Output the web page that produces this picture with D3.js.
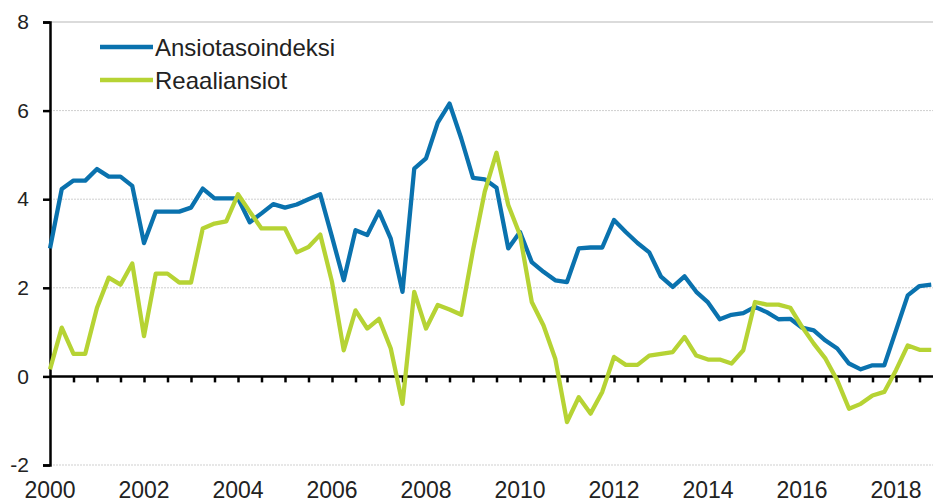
<!DOCTYPE html>
<html>
<head>
<meta charset="utf-8">
<script src="https://cdn.jsdelivr.net/npm/d3@7"></script>
<style>
  body { margin: 0; background: #fff; }
  svg { display: block; font-family: "Liberation Sans", Arial, sans-serif; }
</style>
</head>
<body>
<div id="chart"></div>
<script>
// quarterly categories 2000Q1 .. 2018Q4
const years = d3.range(2000, 2019);
const quarters = years.flatMap(y => [1, 2, 3, 4].map(q => y + "Q" + q));

const yearLabels = ["2000", "2002", "2004", "2006", "2008", "2010", "2012", "2014", "2016", "2018"];
const yTicks = [-2, 0, 2, 4, 6, 8];

const seriesNames = ["Ansiotasoindeksi", "Reaaliansiot"];

// Ansiotasoindeksi, change %
const ansio = [
  2.89, 4.23, 4.42, 4.42, 4.68, 4.51, 4.51, 4.30,
  3.01, 3.72, 3.72, 3.72, 3.81, 4.24, 4.02, 4.02,
  4.02, 3.48, 3.68, 3.89, 3.81, 3.88, 4.00, 4.11,
  3.15, 2.17, 3.30, 3.19, 3.72, 3.11, 1.91, 4.69,
  4.92, 5.73, 6.16, 5.37, 4.48, 4.45, 4.26, 2.89,
  3.26, 2.58, 2.36, 2.17, 2.13, 2.89, 2.91, 2.91,
  3.53, 3.26, 3.01, 2.80, 2.25, 2.02, 2.26, 1.91,
  1.67, 1.29, 1.39, 1.43, 1.57, 1.45, 1.29, 1.30,
  1.10, 1.04, 0.81, 0.63, 0.29, 0.16, 0.25, 0.25,
  1.04, 1.83, 2.04, 2.07
];

// Reaaliansiot, change %
const reaali = [
  0.16, 1.10, 0.51, 0.51, 1.55, 2.23, 2.07, 2.55,
  0.91, 2.32, 2.32, 2.12, 2.12, 3.34, 3.45, 3.50,
  4.11, 3.72, 3.34, 3.34, 3.34, 2.80, 2.92, 3.20,
  2.13, 0.59, 1.49, 1.08, 1.30, 0.63, -0.62, 1.91,
  1.08, 1.61, 1.51, 1.39, 2.85, 4.17, 5.05, 3.87,
  3.19, 1.68, 1.15, 0.40, -1.03, -0.47, -0.84, -0.35,
  0.44, 0.26, 0.26, 0.47, 0.51, 0.55, 0.89, 0.47,
  0.38, 0.38, 0.29, 0.59, 1.68, 1.62, 1.62, 1.55,
  1.12, 0.74, 0.40, -0.09, -0.73, -0.62, -0.43, -0.35,
  0.14, 0.70, 0.60, 0.60
];

const colors = ["#0a72ae", "#b6d334"];

const width = 933;
const height = 503;
const margin = {top: 22, right: 2, bottom: 38, left: 50};

const svg = d3.create("svg")
  .attr("width", width)
  .attr("height", height);

svg.append("rect").attr("width", width).attr("height", height).attr("fill", "#fff");

const x = d3.scalePoint()
  .domain(quarters)
  .range([margin.left, 931.25]);

const y = d3.scaleLinear()
  .domain([-2, 8])
  .range([height - margin.bottom, margin.top]);

// gridlines
svg.append("g")
  .selectAll("line")
  .data(yTicks.filter(d => d !== 0))
  .join("line")
  .attr("x1", margin.left)
  .attr("x2", width)
  .attr("y1", d => y(d))
  .attr("y2", d => y(d))
  .attr("stroke", "#cfcfcf")
  .attr("stroke-width", d => d === 8 ? 1.5 : 1)
  .attr("stroke-dasharray", d => d === 8 ? null : "2,1");

// y axis
const yAxis = svg.append("g")
  .attr("transform", `translate(${margin.left},0)`)
  .call(d3.axisLeft(y).tickValues(yTicks).tickSize(7).tickPadding(14).tickFormat(d => String(d)));
yAxis.select(".domain").attr("stroke", "#000").attr("stroke-width", 2.5);
yAxis.selectAll(".tick line").attr("stroke", "#000").attr("stroke-width", 2.5);
yAxis.selectAll(".tick text")
  .attr("fill", "#222")
  .attr("font-size", 21)
  .attr("font-family", "Liberation Sans, Arial, sans-serif");

// zero line with category ticks
const zeroAxis = svg.append("g")
  .attr("transform", `translate(0,${y(0)})`)
  .call(d3.axisBottom(x)
    .tickValues(quarters.filter((d, i) => i > 0 && i % 2 === 0))
    .tickSize(6)
    .tickSizeOuter(0)
    .tickFormat(""));
zeroAxis.select(".domain").attr("stroke", "#000").attr("stroke-width", 2.5)
  .attr("d", `M${margin.left},0H${width}`);
zeroAxis.selectAll(".tick line").attr("stroke", "#000").attr("stroke-width", 2.5);

// year labels under the plot
svg.append("g")
  .selectAll("text")
  .data(yearLabels)
  .join("text")
  .attr("x", d => x(d + "Q1"))
  .attr("y", 498)
  .attr("text-anchor", "middle")
  .attr("fill", "#222")
  .attr("font-size", 23)
  .text(d => d);

// lines
const line = d3.line()
  .x((d, i) => x(quarters[i]))
  .y(d => y(d));

[ansio, reaali].forEach((s, k) => {
  svg.append("path")
    .datum(s)
    .attr("fill", "none")
    .attr("stroke", colors[k])
    .attr("stroke-width", 4.3)
    .attr("stroke-linejoin", "round")
    .attr("d", line);
});

// legend
const legend = svg.append("g");
seriesNames.forEach((name, k) => {
  const ly = 47 + k * 33;
  legend.append("line")
    .attr("x1", 100).attr("x2", 153)
    .attr("y1", ly).attr("y2", ly)
    .attr("stroke", colors[k])
    .attr("stroke-width", 4.5);
  legend.append("text")
    .attr("x", 155)
    .attr("y", ly + 8.5)
    .attr("fill", "#222")
    .attr("font-size", 24)
    .text(name);
});

document.getElementById("chart").appendChild(svg.node());
</script>
</body>
</html>
